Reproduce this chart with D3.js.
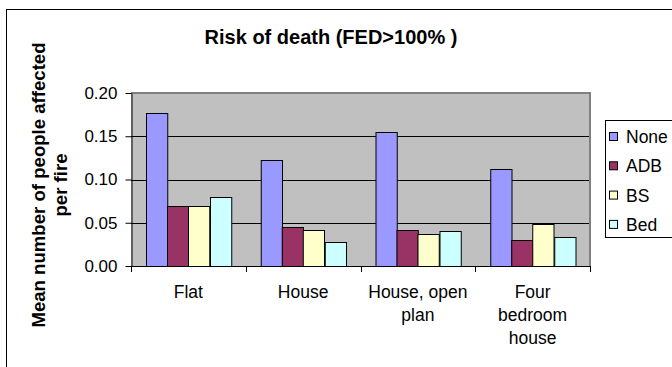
<!DOCTYPE html>
<html>
<head>
<meta charset="utf-8">
<script src="https://cdn.jsdelivr.net/npm/d3@7"></script>
<style>
  html, body { margin: 0; padding: 0; background: #fff; }
  svg { display: block; font-family: Arial, "Liberation Sans", sans-serif; }
</style>
</head>
<body>
<svg id="chart" width="672" height="367"></svg>
<script>
// Dwelling types (multi-line labels) and the mitigation series
const categories = [
  ["Flat"],
  ["House"],
  ["House, open", "plan"],
  ["Four", "bedroom", "house"]
];
const seriesNames = ["None", "ADB", "BS", "Bed"];
const seriesColors = ["#9999ff", "#993366", "#ffffcc", "#ccffff"];

// Mean number of people affected per fire, one array per series
const noneValues = [0.177, 0.122, 0.155, 0.112];
const adbValues  = [0.069, 0.045, 0.042, 0.030];
const bsValues   = [0.069, 0.042, 0.037, 0.048];
const bedValues  = [0.080, 0.028, 0.040, 0.034];

const yTicks = [0, 0.05, 0.10, 0.15, 0.20];

const seriesValues = [noneValues, adbValues, bsValues, bedValues];

const svg = d3.select("#chart");

// Outer chart frame (runs past the right and bottom edges)
svg.append("rect")
  .attr("x", 6.5).attr("y", 9.5)
  .attr("width", 700).attr("height", 400)
  .attr("fill", "#fff").attr("stroke", "#000").attr("stroke-width", 1);

const plot = { left: 131, right: 590, top: 93, bottom: 266 };

const x0 = d3.scaleBand()
  .domain(d3.range(categories.length))
  .range([plot.left, plot.right])
  .paddingInner(0).paddingOuter(0);

const x1 = d3.scaleBand()
  .domain(d3.range(seriesNames.length))
  .range([0, x0.bandwidth()])
  .paddingOuter(0.7).paddingInner(0);

const y = d3.scaleLinear().domain([0, 0.20]).range([plot.bottom, plot.top]);

// Plot area background
svg.append("rect")
  .attr("x", plot.left).attr("y", plot.top)
  .attr("width", plot.right - plot.left).attr("height", plot.bottom - plot.top)
  .attr("fill", "#c0c0c0");

// Gridlines
svg.append("g")
  .selectAll("line")
  .data(yTicks.filter(t => t > 0 && t < 0.2))
  .join("line")
  .attr("x1", plot.left).attr("x2", plot.right)
  .attr("y1", d => Math.round(y(d)) + 0.5).attr("y2", d => Math.round(y(d)) + 0.5)
  .attr("stroke", "#000").attr("stroke-width", 1);

// Plot area border (top and right in grey)
svg.append("path")
  .attr("d", `M${plot.left},${plot.top} H${plot.right} V${plot.bottom}`)
  .attr("fill", "none").attr("stroke", "#808080").attr("stroke-width", 2);

// Bars
const groups = svg.append("g")
  .selectAll("g")
  .data(categories.map((c, i) => i))
  .join("g")
  .attr("transform", i => `translate(${x0(i)},0)`);

groups.selectAll("rect")
  .data(i => seriesValues.map((vals, s) => ({ s, v: vals[i] })))
  .join("rect")
  .attr("x", d => Math.round(x1(d.s)) + 0.5)
  .attr("y", d => Math.round(y(d.v)) + 0.5)
  .attr("width", x1.bandwidth())
  .attr("height", d => plot.bottom - Math.round(y(d.v)))
  .attr("fill", d => seriesColors[d.s])
  .attr("stroke", "#000").attr("stroke-width", 1);

// Y axis
const yAxis = d3.axisLeft(y)
  .tickValues(yTicks)
  .tickFormat(d3.format(".2f"))
  .tickSizeInner(6).tickSizeOuter(0).tickPadding(8);

const yg = svg.append("g")
  .attr("transform", `translate(${plot.left + 0.5},0)`)
  .call(yAxis);
yg.select(".domain").attr("stroke", "#000");
yg.selectAll("text").attr("font-size", 17).attr("fill", "#000")
  .attr("font-family", "Arial, 'Liberation Sans', sans-serif");

// X axis: ticks at category boundaries
const xg = svg.append("g");
xg.append("line")
  .attr("x1", plot.left).attr("x2", plot.right + 1)
  .attr("y1", plot.bottom + 0.5).attr("y2", plot.bottom + 0.5)
  .attr("stroke", "#000");
xg.selectAll("line.tick")
  .data(d3.range(categories.length + 1))
  .join("line")
  .attr("class", "tick")
  .attr("x1", i => Math.round(plot.left + i * x0.step()) + 0.5)
  .attr("x2", i => Math.round(plot.left + i * x0.step()) + 0.5)
  .attr("y1", plot.bottom).attr("y2", plot.bottom + 6)
  .attr("stroke", "#000");

// Category labels
const catLabels = svg.append("g")
  .selectAll("text")
  .data(categories.map((lines, i) => ({ lines, i })))
  .join("text")
  .attr("text-anchor", "middle")
  .attr("font-size", 17.5)
  .attr("fill", "#000");
catLabels.selectAll("tspan")
  .data(d => d.lines.map((t, k) => ({ t, k, i: d.i })))
  .join("tspan")
  .attr("x", d => x0(d.i) + x0.bandwidth() / 2)
  .attr("y", d => 298 + d.k * 23)
  .text(d => d.t);

// Title
svg.append("text")
  .attr("x", 331).attr("y", 44)
  .attr("text-anchor", "middle")
  .attr("font-size", 20).attr("font-weight", "bold")
  .attr("fill", "#000")
  .text("Risk of death (FED>100% )");

// Y axis title
const yTitle = svg.append("text")
  .attr("transform", `translate(45,185) rotate(-90)`)
  .attr("text-anchor", "middle")
  .attr("font-size", 18.6).attr("font-weight", "bold")
  .attr("fill", "#000");
yTitle.append("tspan").attr("x", 0).attr("dy", 0).text("Mean number of people affected");
yTitle.append("tspan").attr("x", 0).attr("dy", 22).text("per fire");

// Legend
const legend = svg.append("g");
legend.append("rect")
  .attr("x", 605.5).attr("y", 120.5)
  .attr("width", 70).attr("height", 117)
  .attr("fill", "#fff").attr("stroke", "#000");
const items = legend.selectAll("g")
  .data(seriesNames.map((n, i) => ({ n, i })))
  .join("g")
  .attr("transform", d => `translate(609,${137 + d.i * 29.3})`);
items.append("rect")
  .attr("x", 0.5).attr("y", -4.5)
  .attr("width", 8).attr("height", 8)
  .attr("fill", d => seriesColors[d.i])
  .attr("stroke", "#000");
items.append("text")
  .attr("x", 17).attr("y", 6)
  .attr("font-size", 17.5).attr("fill", "#000")
  .text(d => d.n);
</script>
</body>
</html>
